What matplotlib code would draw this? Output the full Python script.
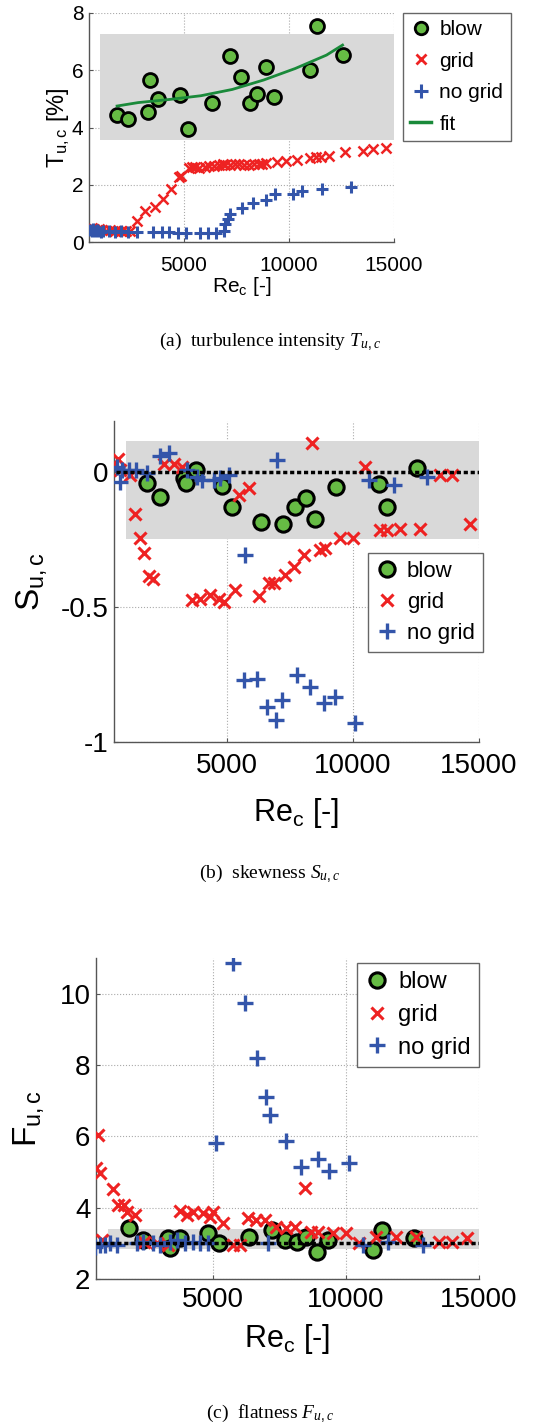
import numpy as np
import matplotlib
matplotlib.use("Agg")
import matplotlib.pyplot as plt
from matplotlib.lines import Line2D

plt.rcParams['font.family'] = ['Liberation Sans', 'DejaVu Sans']
plt.rcParams['mathtext.fontset'] = 'custom'
plt.rcParams['mathtext.it'] = 'Liberation Serif:italic'
plt.rcParams['mathtext.rm'] = 'Liberation Sans'
plt.rcParams['mathtext.default'] = 'regular'

# ---- data ----
blow_x = [1835, 2357, 3283, 3388, 3761, 4821, 5209, 6359, 7210, 7717,
          8135, 8509, 8912, 9315, 11017, 11360, 12555]
blow_T = [4.44, 4.31, 4.53, 5.65, 4.99, 5.13, 3.94, 4.86, 6.49, 5.76,
          4.84, 5.16, 6.12, 5.05, 6.00, 7.56, 6.55]
blow_S = [-0.04, -0.09, -0.02, -0.04, 0.01, -0.05, -0.13, -0.185, -0.19, -0.13,
          -0.095, -0.175, np.nan, -0.053, -0.044, -0.13, 0.017]
blow_F = [3.42, 3.09, 3.14, 2.86, 3.14, 3.28, 3.00, 3.19, 3.37, 3.09,
          3.05, 3.19, 2.77, 3.09, 2.81, 3.37, 3.14]

fit_x = [1835, 2835, 4328, 5821, 7314, 8807, 10300, 11793, 12555]
fit_T = [4.75, 4.87, 4.98, 5.11, 5.33, 5.66, 6.06, 6.53, 6.88]

grid_T_x = [560, 650, 760, 870, 980, 1100, 1300, 1500, 1750, 2000, 2250, 2450,
            2790, 3164, 3656, 4015, 4403, 4761, 4880, 5254, 5403, 5552, 5746,
            6000, 6224, 6448, 6672, 6851, 6971, 7195, 7419, 7643, 7867, 8091,
            8344, 8583, 8733, 8912, 9434, 9882, 10405, 11002, 11300, 11524,
            11897, 12674, 13540, 13988, 14605]
grid_T = [0.45, 0.48, 0.45, 0.43, 0.47, 0.42, 0.40, 0.42, 0.40, 0.38, 0.40, 0.40,
          0.75, 1.08, 1.22, 1.50, 1.85, 2.26, 2.31, 2.60, 2.63, 2.63, 2.60,
          2.63, 2.66, 2.66, 2.69, 2.72, 2.69, 2.69, 2.72, 2.72, 2.69, 2.69,
          2.72, 2.72, 2.72, 2.75, 2.78, 2.84, 2.86, 2.95, 2.97, 2.97,
          3.01, 3.13, 3.18, 3.24, 3.28]

nogrid_T_x = [560, 620, 700, 780, 860, 950, 1050, 1150, 1447, 1745, 2044, 2342,
              2790, 3537, 3985, 4283, 4731, 5105, 5776, 6150, 6523, 6896, 6971,
              7120, 7195, 7792, 8285, 8912, 9360, 10181, 10629, 11599, 12973]
nogrid_T = [0.42, 0.40, 0.45, 0.38, 0.42, 0.40, 0.36, 0.40, 0.38, 0.36, 0.37, 0.36,
            0.35, 0.36, 0.35, 0.34, 0.33, 0.33, 0.32, 0.32, 0.33, 0.40, 0.64,
            0.81, 0.98, 1.19, 1.35, 1.47, 1.66, 1.68, 1.77, 1.85, 1.91]

grid_S_x = [661, 767, 1163, 1362, 1534, 1693, 1891, 2063, 2486, 2883, 3214,
            3611, 3942, 4339, 4669, 4868, 5331, 5463, 5860, 6257, 6654, 6852,
            7315, 7646, 8043, 8374, 8704, 8903, 9498, 10000, 10490, 11086,
            11350, 11880, 12673, 13467, 13930, 14658]
grid_S = [0.048, 0.01, -0.01, -0.155, -0.245, -0.30, -0.385, -0.395, 0.03, 0.03, 0.02,
          -0.475, -0.47, -0.455, -0.47, -0.48, -0.435, -0.085, -0.06, -0.46, -0.41, -0.41,
          -0.38, -0.35, -0.305, 0.107, -0.288, -0.28, -0.245, -0.245, 0.02, -0.215,
          -0.215, -0.21, -0.21, -0.01, -0.01, -0.19]

nogrid_S_x = [634, 740, 833, 1097, 1400, 1825, 2328, 2685, 3412, 3810, 4008,
              4471, 4735, 5066, 5661, 5728, 6190, 6588, 6958, 6985, 7183, 7778,
              8308, 8837, 9300, 10093, 10623, 11615, 12938]
nogrid_S = [0.02, -0.035, 0.01, 0.01, 0.01, -0.004, 0.06, 0.07, 0.01, -0.016, -0.028,
            -0.028, -0.022, -0.01, -0.77, -0.305, -0.765, -0.87, -0.92, 0.045, -0.845, -0.75,
            -0.795, -0.855, -0.835, -0.93, -0.028, -0.047, -0.016]

grid_F_x = [587, 662, 750, 800, 1212, 1400, 1650, 1750, 2062, 2400, 2900, 3300,
            3750, 4000, 4250, 4625, 4875, 5000, 5375, 5750, 6000, 6312, 6625,
            6937, 7375, 7750, 8062, 8438, 8688, 8938, 9500, 10000, 10500, 11125,
            11875, 12625, 13500, 14000, 14562]
grid_F = [5.10, 6.04, 4.96, 3.10, 4.51, 4.07, 4.07, 3.89, 3.79, 3.05, 3.00, 2.95,
          3.91, 3.79, 3.89, 3.86, 3.75, 3.89, 3.58, 2.95, 2.95, 3.70, 3.65,
          3.65, 3.47, 3.42, 3.47, 4.54, 3.33, 3.33, 3.28, 3.28, 3.00, 3.19,
          3.19, 3.19, 3.05, 3.05, 3.14]

nogrid_F_x = [562, 750, 937, 1125, 1375, 2125, 2375, 2750, 3000, 3375, 3625,
              3937, 4250, 4500, 4812, 5100, 5750, 6213, 6663, 7000, 7050, 7150,
              7750, 8288, 8938, 9350, 10100, 10625, 11562, 12875]
nogrid_F = [2.90, 2.95, 2.95, 3.00, 2.95, 3.00, 3.05, 3.00, 2.95, 3.05, 3.10,
            3.00, 3.05, 3.00, 3.00, 5.82, 10.87, 9.75, 8.19, 7.11, 3.00, 6.60,
            5.88, 5.15, 5.36, 5.03, 5.26, 2.95, 3.05, 2.95]

band_T = (3.57, 7.26)
band_S = (-0.248, 0.116)
band_F = (2.84, 3.40)

GREEN = '#66bb44'
RED = '#ee2222'
BLUE = '#3355aa'
FITC = '#1a8a3a'
BAND = '#d9d9d9'

W, H = 555, 1428
fig = plt.figure(figsize=(W / 100, H / 100), dpi=100)


def make_ax(l, t, r, b):
    return fig.add_axes([l / W, 1 - b / H, (r - l) / W, (b - t) / H])


def style(ax, fs, pad):
    for s in ['top', 'right']:
        ax.spines[s].set_visible(False)
    for s in ['left', 'bottom']:
        ax.spines[s].set_color('#555555')
        ax.spines[s].set_linewidth(1.0)
    ax.grid(True, linestyle=':', color='#aaaaaa', linewidth=0.8)
    ax.set_axisbelow(True)
    ax.tick_params(direction='in', length=3, width=0.8, color='#555555',
                   labelsize=fs)
    ax.tick_params(axis='x', pad=pad)
    ax.tick_params(axis='y', pad=4)


def legend(ax, handles, labels, px, py, fs, spacing):
    lg = ax.legend(handles, labels, loc='upper left',
                   bbox_to_anchor=(px / W, 1 - py / H), bbox_transform=fig.transFigure,
                   fontsize=fs, frameon=True, fancybox=False, framealpha=1,
                   edgecolor='#666666', handlelength=1.0, handletextpad=0.4,
                   borderpad=0.35, labelspacing=spacing, borderaxespad=0)
    lg.get_frame().set_linewidth(1.0)


# ---- (a) turbulence intensity ----
ax = make_ax(89, 13, 394, 242)
ax.fill_between([1000, 15000], band_T[0], band_T[1], color=BAND, lw=0, zorder=1)
ax.plot(grid_T_x, grid_T, 'x', color=RED, ms=7, mew=1.8, zorder=3)
ax.plot(nogrid_T_x, nogrid_T, '+', color=BLUE, ms=9, mew=2.2, zorder=3)
ax.plot(blow_x, blow_T, 'o', mfc=GREEN, mec='black', ms=10, mew=2, zorder=4)
ax.plot(fit_x, fit_T, '-', color=FITC, lw=2, zorder=5)
ax.set_xlim(500, 15000)
ax.set_ylim(0, 8)
ax.set_xticks([5000, 10000, 15000])
ax.set_yticks([0, 2, 4, 6, 8])
style(ax, 15, 10)
ax.set_xlabel('Re$_c$ [-]', fontsize=15, labelpad=0)
ax.set_ylabel('T$_{u,c}$ [%]', fontsize=17, labelpad=0)
hs = [Line2D([], [], ls='none', marker='o', mfc=GREEN, mec='black', ms=9, mew=2),
      Line2D([], [], ls='none', marker='x', color=RED, ms=7, mew=2),
      Line2D([], [], ls='none', marker='+', color=BLUE, ms=10, mew=2.2),
      Line2D([], [], color=FITC, lw=2.5)]
legend(ax, hs, ['blow', 'grid', 'no grid', 'fit'], 403, 13, 15, 0.6)
fig.text(270 / W, 1 - 342 / H, r'(a)  turbulence intensity $\mathit{T_{u,c}}$',
         ha='center', va='center', fontsize=14, family='Liberation Serif')

# ---- (b) skewness ----
ax = make_ax(114, 421, 479, 742)
ax.fill_between([1000, 15000], band_S[0], band_S[1], color=BAND, lw=0, zorder=1)
ax.plot(blow_x, blow_S, 'o', mfc=GREEN, mec='black', ms=11, mew=2.2, zorder=3)
ax.plot(grid_S_x, grid_S, 'x', color=RED, ms=9, mew=2.2, zorder=4)
ax.plot(nogrid_S_x, nogrid_S, '+', color=BLUE, ms=11, mew=2.4, zorder=5)
ax.plot([600, 15000], [0, 0], color='black', ls=(0, (1.2, 0.8)), lw=2.5, zorder=6)
ax.set_xlim(520, 15000)
ax.set_ylim(-1, 0.19)
ax.set_xticks([5000, 10000, 15000])
ax.set_yticks([-1, -0.5, 0])
ax.set_yticklabels(['-1', '-0.5', '0'])
style(ax, 20, 8)
ax.set_xlabel('Re$_c$ [-]', fontsize=22, labelpad=12)
ax.set_ylabel('S$_{u,c}$', fontsize=24, labelpad=8)
hs = [Line2D([], [], ls='none', marker='o', mfc=GREEN, mec='black', ms=11, mew=2.2),
      Line2D([], [], ls='none', marker='x', color=RED, ms=9, mew=2.2),
      Line2D([], [], ls='none', marker='+', color=BLUE, ms=11, mew=2.4)]
legend(ax, hs, ['blow', 'grid', 'no grid'], 368, 553, 16, 0.45)
fig.text(270 / W, 1 - 874 / H, r'(b)  skewness $\mathit{S_{u,c}}$',
         ha='center', va='center', fontsize=14, family='Liberation Serif')

# ---- (c) flatness ----
ax = make_ax(96, 958, 479, 1279)
ax.fill_between([1060, 15000], band_F[0], band_F[1], color=BAND, lw=0, zorder=1)
ax.plot(blow_x, blow_F, 'o', mfc=GREEN, mec='black', ms=11, mew=2.2, zorder=3)
ax.plot(grid_F_x, grid_F, 'x', color=RED, ms=9, mew=2.2, zorder=4)
ax.plot(nogrid_F_x, nogrid_F, '+', color=BLUE, ms=11, mew=2.4, zorder=5)
ax.plot([600, 15000], [3, 3], color='black', ls=(0, (1.2, 0.8)), lw=2.5, zorder=6)
ax.set_xlim(590, 15000)
ax.set_ylim(2, 11)
ax.set_xticks([5000, 10000, 15000])
ax.set_yticks([2, 4, 6, 8, 10])
style(ax, 20, 6)
ax.set_xlabel('Re$_c$ [-]', fontsize=22, labelpad=6)
ax.set_ylabel('F$_{u,c}$', fontsize=24, labelpad=10)
legend(ax, hs, ['blow', 'grid', 'no grid'], 357, 963, 17, 0.45)
fig.text(270 / W, 1 - 1414 / H, r'(c)  flatness $\mathit{F_{u,c}}$',
         ha='center', va='center', fontsize=14, family='Liberation Serif')

fig.savefig('out.png', dpi=100, facecolor='white')
